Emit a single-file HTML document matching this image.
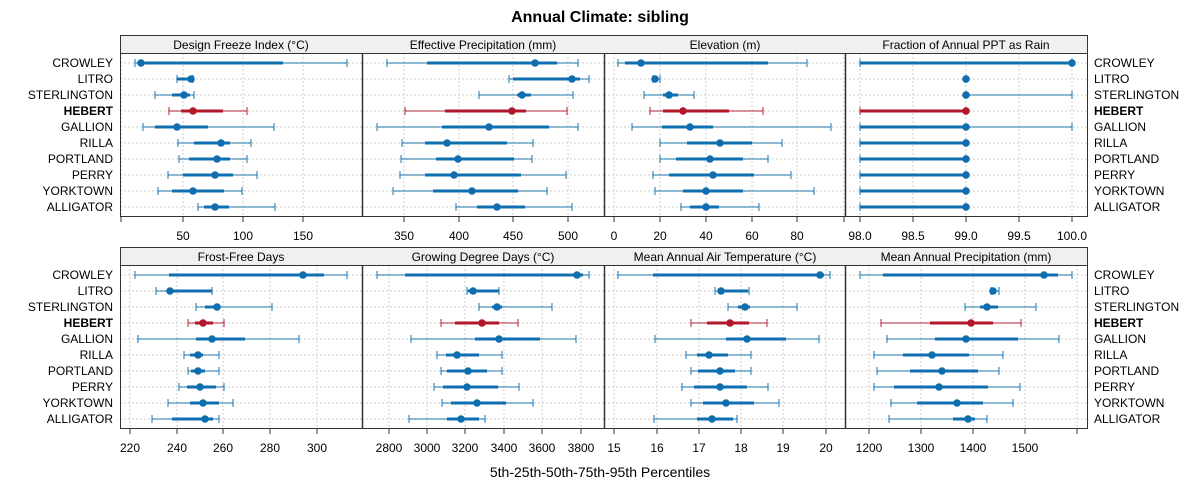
<!DOCTYPE html>
<html><head><meta charset="utf-8"><style>
body{margin:0;background:#fff}
svg{display:block;font-family:"Liberation Sans",sans-serif}
</style></head><body>
<svg id="s" width="1200" height="500" xmlns="http://www.w3.org/2000/svg">
<rect width="1200" height="500" fill="#fff"/>
<g id="grid"></g>
<g id="bars"></g>
<g id="frame" fill="none" stroke="#333" stroke-width="1"></g>
<text x="600" y="22" text-anchor="middle" font-size="16" font-weight="bold">Annual Climate: sibling</text>
<g font-size="12" fill="#000">
<rect x="120.5" y="35.5" width="967" height="18" fill="#f0f0f0" stroke="#333"/>
<rect x="120.5" y="247.5" width="967" height="18" fill="#f0f0f0" stroke="#333"/>
<text x="241" y="49" text-anchor="middle">Design Freeze Index (°C)</text>
<text x="483" y="49" text-anchor="middle">Effective Precipitation (mm)</text>
<text x="725" y="49" text-anchor="middle">Elevation (m)</text>
<text x="966" y="49" text-anchor="middle">Fraction of Annual PPT as Rain</text>
<text x="241" y="261" text-anchor="middle">Frost-Free Days</text>
<text x="483" y="261" text-anchor="middle">Growing Degree Days (°C)</text>
<text x="725" y="261" text-anchor="middle">Mean Annual Air Temperature (°C)</text>
<text x="966" y="261" text-anchor="middle">Mean Annual Precipitation (mm)</text>
</g>
<g font-size="12" text-anchor="end">
<text x="113" y="67">CROWLEY</text><text x="113" y="83">LITRO</text><text x="113" y="99">STERLINGTON</text><text x="113" y="115" font-weight="bold">HEBERT</text><text x="113" y="131">GALLION</text><text x="113" y="147">RILLA</text><text x="113" y="163">PORTLAND</text><text x="113" y="179">PERRY</text><text x="113" y="195">YORKTOWN</text><text x="113" y="211">ALLIGATOR</text>
<text x="113" y="279">CROWLEY</text><text x="113" y="295">LITRO</text><text x="113" y="311">STERLINGTON</text><text x="113" y="327" font-weight="bold">HEBERT</text><text x="113" y="343">GALLION</text><text x="113" y="359">RILLA</text><text x="113" y="375">PORTLAND</text><text x="113" y="391">PERRY</text><text x="113" y="407">YORKTOWN</text><text x="113" y="423">ALLIGATOR</text>
</g>
<g font-size="12">
<text x="1094" y="67">CROWLEY</text><text x="1094" y="83">LITRO</text><text x="1094" y="99">STERLINGTON</text><text x="1094" y="115" font-weight="bold">HEBERT</text><text x="1094" y="131">GALLION</text><text x="1094" y="147">RILLA</text><text x="1094" y="163">PORTLAND</text><text x="1094" y="179">PERRY</text><text x="1094" y="195">YORKTOWN</text><text x="1094" y="211">ALLIGATOR</text>
<text x="1094" y="279">CROWLEY</text><text x="1094" y="295">LITRO</text><text x="1094" y="311">STERLINGTON</text><text x="1094" y="327" font-weight="bold">HEBERT</text><text x="1094" y="343">GALLION</text><text x="1094" y="359">RILLA</text><text x="1094" y="375">PORTLAND</text><text x="1094" y="391">PERRY</text><text x="1094" y="407">YORKTOWN</text><text x="1094" y="423">ALLIGATOR</text>
</g>
<g font-size="12" text-anchor="middle">
<text x="183" y="240">50</text><text x="243" y="240">100</text><text x="303" y="240">150</text>
<text x="404" y="240">350</text><text x="459" y="240">400</text><text x="513" y="240">450</text><text x="568" y="240">500</text>
<text x="614" y="240">0</text><text x="660" y="240">20</text><text x="706" y="240">40</text><text x="752" y="240">60</text><text x="797" y="240">80</text>
<text x="860" y="240">98.0</text><text x="913" y="240">98.5</text><text x="966" y="240">99.0</text><text x="1019" y="240">99.5</text><text x="1072" y="240">100.0</text>
<text x="130" y="452">220</text><text x="177" y="452">240</text><text x="223" y="452">260</text><text x="270" y="452">280</text><text x="317" y="452">300</text>
<text x="389" y="452">2800</text><text x="427" y="452">3000</text><text x="465" y="452">3200</text><text x="504" y="452">3400</text><text x="542" y="452">3600</text><text x="581" y="452">3800</text>
<text x="614" y="452">15</text><text x="657" y="452">16</text><text x="699" y="452">17</text><text x="741" y="452">18</text><text x="783" y="452">19</text><text x="826" y="452">20</text>
<text x="869" y="452">1200</text><text x="921" y="452">1300</text><text x="973" y="452">1400</text><text x="1025" y="452">1500</text>
</g>
<text x="600" y="477" text-anchor="middle" font-size="14">5th-25th-50th-75th-95th Percentiles</text>
</svg>
<script>
(function(){
var NS="http://www.w3.org/2000/svg";
function el(p,t,a){var e=document.createElementNS(NS,t);for(var k in a)e.setAttribute(k,a[k]);p.appendChild(e);return e;}
var grid=document.getElementById('grid'),bars=document.getElementById('bars'),fr=document.getElementById('frame');
var PX=[[120,362],[362,604],[604,845],[845,1087]];
var ticks=[[121,183,243,303],[404,459,513,568],[614,660,706,752,797,844],[860,913,966,1019,1072],
[130,177,223,270,317],[389,427,465,504,542,581],[614,657,699,741,783,826],[869,921,973,1025,1077]];
var D=[
[[135,141,141,283,347],[177,177,191,192,193],[155,172,184,190,194],[169,181,193,223,247],[143,155,177,208,274],[178,194,221,230,251],[179,189,217,230,247],[168,183,215,233,257],[158,172,193,224,242],[198,204,215,229,275]],
[[387,427,535,557,578],[509,513,572,580,589],[479,517,522,531,573],[405,445,512,526,567],[377,442,489,549,578],[402,425,447,507,533],[401,436,458,514,532],[400,425,454,521,566],[393,433,472,518,547],[456,477,497,525,572]],
[[618,625,641,768,807],[653,653,655,658,660],[644,663,669,678,694],[650,663,683,729,763],[632,662,690,713,831],[660,687,720,752,782],[660,676,710,743,768],[653,669,713,754,791],[655,683,706,743,814],[681,690,706,719,759]],
[[860,860,1072,1072,1072],[966,966,966,966,966],[966,966,966,966,1072],[860,860,966,966,966],[860,860,966,966,1072],[860,860,966,966,966],[860,860,966,966,966],[860,860,966,966,966],[860,860,966,966,966],[860,860,966,966,966]],
[[135,169,303,324,347],[156,168,170,212,212],[196,205,217,220,272],[188,195,203,213,224],[138,196,212,245,299],[184,190,198,203,219],[188,191,198,205,219],[179,187,200,216,224],[168,190,203,219,233],[152,172,205,213,219]],
[[377,405,577,583,589],[467,468,473,499,499],[479,492,497,502,552],[441,455,482,499,518],[411,475,499,540,576],[437,446,457,479,502],[441,447,468,487,502],[434,443,467,498,519],[442,451,477,506,533],[409,447,461,479,485]],
[[618,653,820,824,830],[715,718,721,748,749],[728,738,745,750,797],[691,707,730,749,767],[655,726,747,786,819],[686,697,709,728,751],[691,698,720,735,751],[682,694,720,747,768],[691,703,726,754,779],[654,697,712,733,737]],
[[860,883,1044,1058,1072],[991,992,993,995,999],[965,980,987,998,1036],[881,930,971,993,1021],[887,935,966,1018,1059],[874,903,932,969,1003],[877,910,942,978,999],[874,894,939,988,1020],[891,917,957,983,1013],[889,953,968,975,987]]];
for(var p=0;p<8;p++){
 var row=p>>2,c=p%4,x0=PX[c][0],x1=PX[c][1];
 var ytop=row?265:53,ybot=row?428:216,y0=row?275:63;
 ticks[p].forEach(function(t){el(grid,'line',{x1:t,x2:t,y1:ytop,y2:ybot,stroke:'#ccc','stroke-dasharray':'2,2'});el(fr,'line',{x1:t,x2:t,y1:ybot,y2:ybot+6});});
 for(var i=0;i<10;i++){var y=y0+16*i;el(grid,'line',{x1:x0,x2:x1,y1:y,y2:y,stroke:'#ccc','stroke-dasharray':'2,2'});
  var d=D[p][i],col=(i==3)?'#b2182b':'#0f6fae';
  el(bars,'line',{x1:d[0],x2:d[4],y1:y,y2:y,stroke:col,'stroke-width':1.5,'stroke-opacity':0.6});
  el(bars,'line',{x1:d[1],x2:d[3],y1:y,y2:y,stroke:col,'stroke-width':3});
  el(bars,'line',{x1:d[0],x2:d[0],y1:y-4,y2:y+4,stroke:col,'stroke-width':1.2,'stroke-opacity':0.8});
  el(bars,'line',{x1:d[4],x2:d[4],y1:y-4,y2:y+4,stroke:col,'stroke-width':1.2,'stroke-opacity':0.8});
  el(bars,'circle',{cx:d[2],cy:y,r:3.8,fill:col});
 }
 el(fr,'rect',{x:x0+0.5,y:ytop+0.5,width:x1-x0,height:ybot-ytop});
}
[362,604,845].forEach(function(x){el(fr,'line',{x1:x+0.5,x2:x+0.5,y1:35,y2:216,'stroke-width':1.5});el(fr,'line',{x1:x+0.5,x2:x+0.5,y1:247,y2:428,'stroke-width':1.5});});
})();
</script>
</body></html>
